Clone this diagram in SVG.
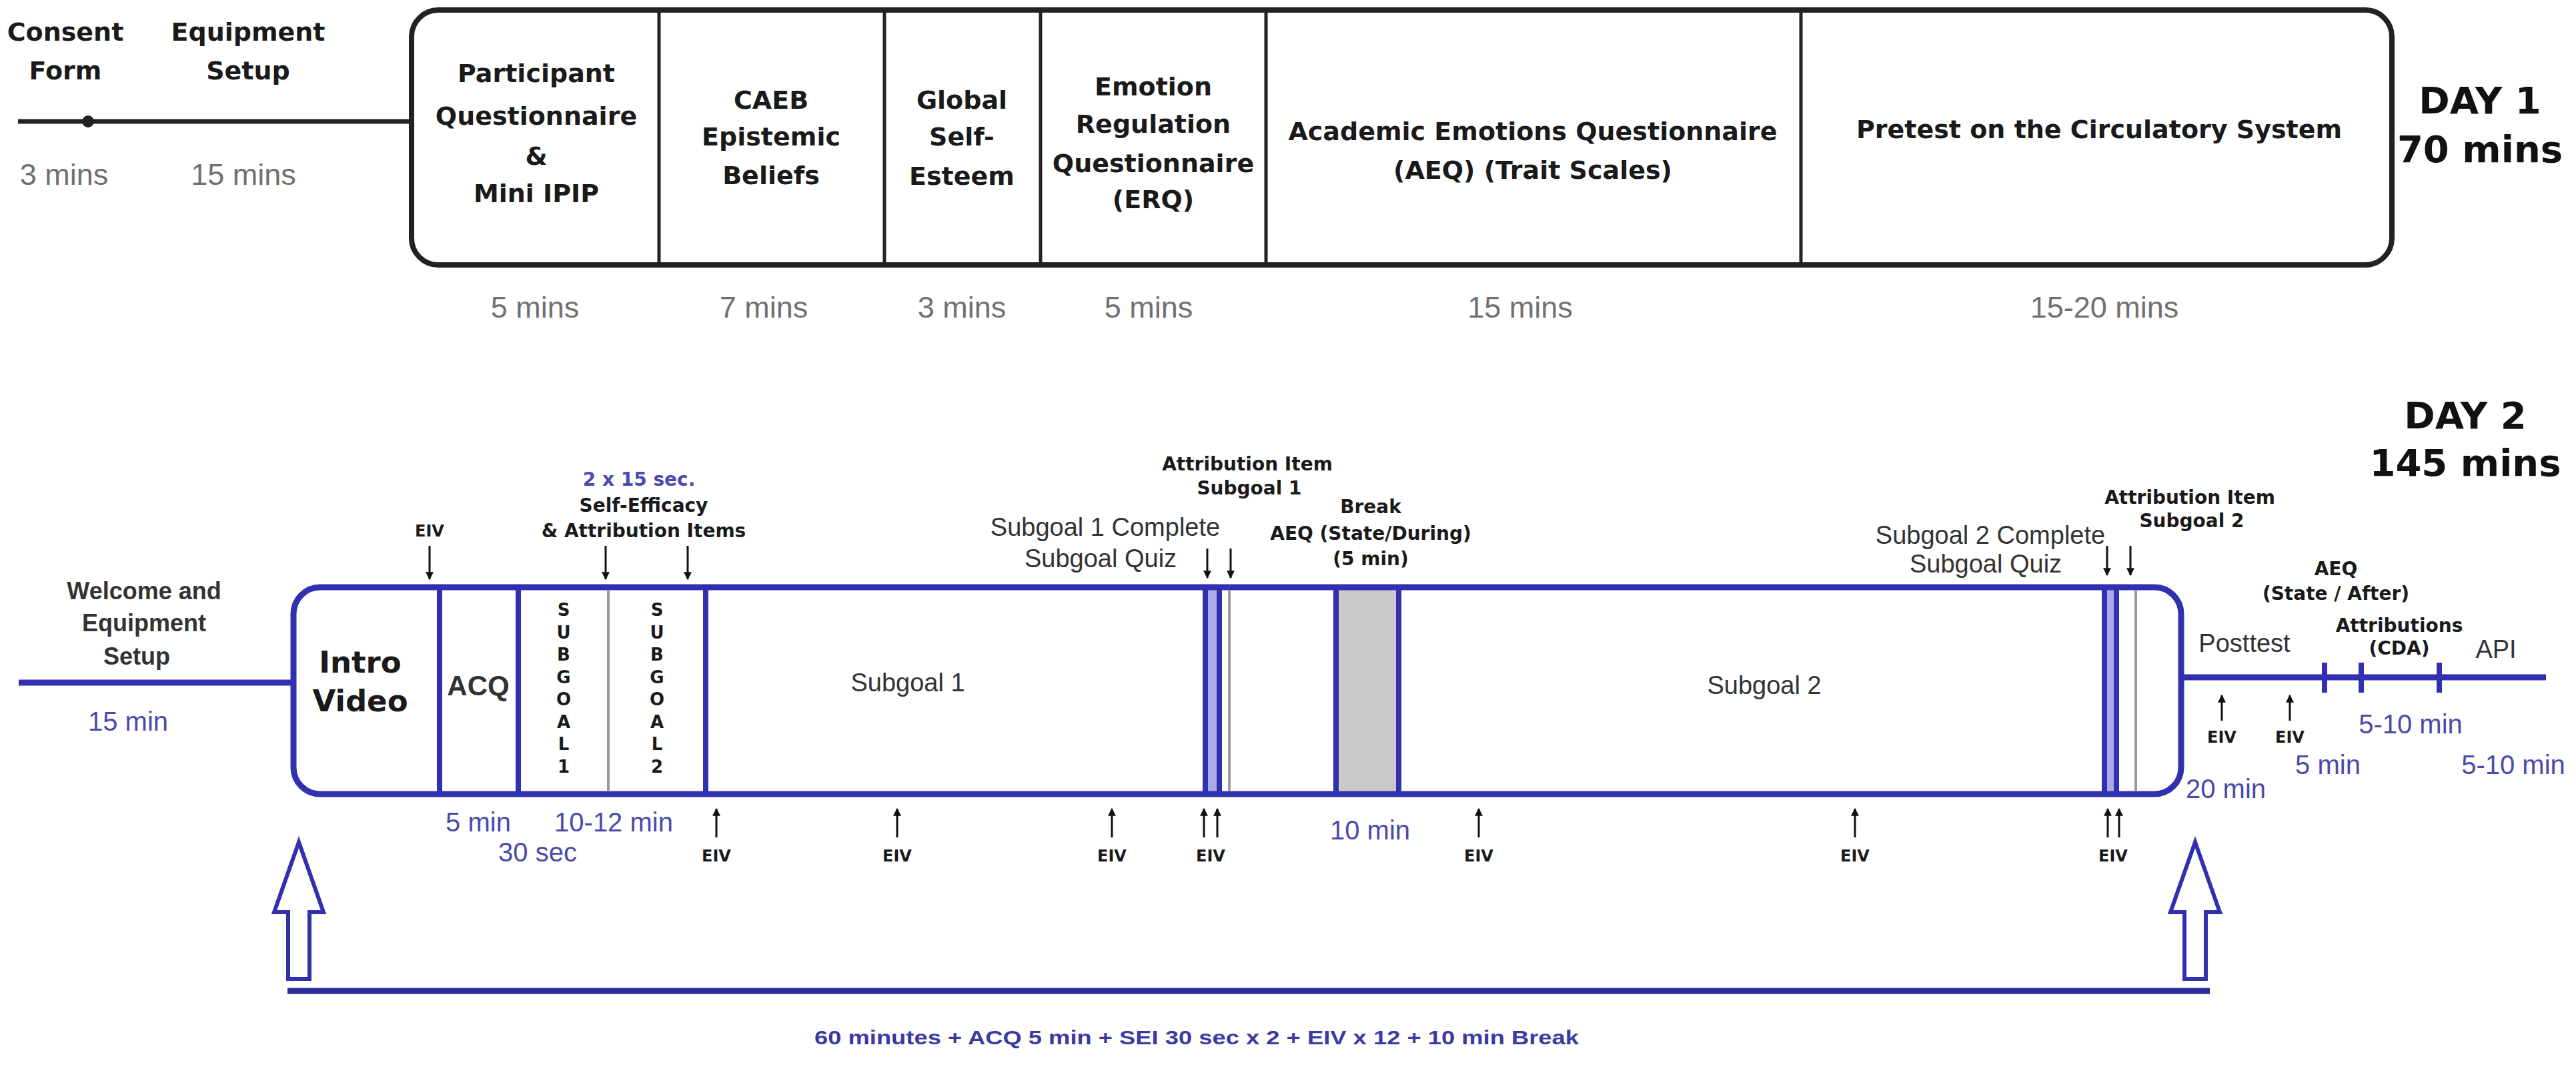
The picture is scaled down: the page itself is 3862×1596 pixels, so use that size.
<svg xmlns="http://www.w3.org/2000/svg" width="3862" height="1596" viewBox="0 0 3862 1596">
<style>
.bk{font-family:"DejaVu Sans",sans-serif;font-weight:bold;fill:#1a1a1a;text-anchor:middle}
.t1{font-size:38px}
.sm{font-size:28px}
.ev{font-size:24px}
.day{font-family:"DejaVu Sans",sans-serif;font-weight:bold;font-size:56px;fill:#111;text-anchor:middle}
.gl{font-family:"Liberation Sans",Arial,sans-serif;font-size:45px;fill:#707070;text-anchor:middle}
.reg{font-family:"Liberation Sans",Arial,sans-serif;font-size:38px;fill:#333;text-anchor:middle}
.rb{font-family:"Liberation Sans",Arial,sans-serif;font-weight:bold;fill:#333;text-anchor:middle}
.bl{font-family:"Liberation Sans",Arial,sans-serif;font-size:40px;fill:#4a4aa8;text-anchor:middle}
.blb{font-family:"DejaVu Sans",sans-serif;font-weight:bold;font-size:28px;fill:#4a4ab0;text-anchor:middle}
.kline{stroke:#222;fill:none}
.bline{stroke:#3030b0;fill:none}
.gline{stroke:#9a9a9a;stroke-width:4;fill:none}
.arr{stroke:#111;stroke-width:3;fill:none;marker-end:url(#ah)}
.big{stroke:#3030b0;stroke-width:6;fill:#fff;stroke-linejoin:miter}
</style>
<defs>
<marker id="ah" viewBox="0 0 10 10" refX="9" refY="5" markerWidth="4" markerHeight="4.5" orient="auto">
<path d="M0,0 L10,5 L0,10 Z" fill="#111"/>
</marker>
</defs>
<rect width="3862" height="1596" fill="#fff"/>

<!-- DAY 1 -->
<g id="day1-pre">
<line class="kline" x1="27" y1="182" x2="617" y2="182" stroke-width="7"/>
<circle cx="132" cy="182" r="9" fill="#222"/>
<text class="bk t1" x="98" y="61">Consent</text>
<text class="bk t1" x="98" y="119">Form</text>
<text class="bk t1" x="372" y="61">Equipment</text>
<text class="bk t1" x="372" y="119">Setup</text>
<text class="gl" x="96" y="277">3 mins</text>
<text class="gl" x="365" y="277">15 mins</text>
</g>

<g id="day1-sessions">
<rect x="617" y="15" width="2969" height="382" rx="40" ry="40" fill="#fff" stroke="#222" stroke-width="8"/>
<g class="kline" stroke-width="5">
<line x1="988" y1="15" x2="988" y2="397"/>
<line x1="1326" y1="15" x2="1326" y2="397"/>
<line x1="1560" y1="15" x2="1560" y2="397"/>
<line x1="1898" y1="15" x2="1898" y2="397"/>
<line x1="2700" y1="15" x2="2700" y2="397"/>
</g>
</g>
<g id="day1-participant">
<text class="bk t1" x="804" y="123">Participant</text>
<text class="bk t1" x="804" y="187">Questionnaire</text>
<text class="bk t1" x="804" y="247">&amp;</text>
<text class="bk t1" x="804" y="303">Mini IPIP</text>
<text class="gl" x="802" y="476">5 mins</text>
</g>
<g id="day1-caeb">
<text class="bk t1" x="1156" y="163">CAEB</text>
<text class="bk t1" x="1156" y="218">Epistemic</text>
<text class="bk t1" x="1156" y="276">Beliefs</text>
<text class="gl" x="1145" y="476">7 mins</text>
</g>
<g id="day1-selfesteem">
<text class="bk t1" x="1442" y="163">Global</text>
<text class="bk t1" x="1442" y="218">Self-</text>
<text class="bk t1" x="1442" y="277">Esteem</text>
<text class="gl" x="1442" y="476">3 mins</text>
</g>
<g id="day1-erq">
<text class="bk t1" x="1729" y="143">Emotion</text>
<text class="bk t1" x="1729" y="199">Regulation</text>
<text class="bk t1" x="1729" y="258">Questionnaire</text>
<text class="bk t1" x="1729" y="312">(ERQ)</text>
<text class="gl" x="1722" y="476">5 mins</text>
</g>
<g id="day1-aeq">
<text class="bk t1" x="2298" y="210">Academic Emotions Questionnaire</text>
<text class="bk t1" x="2298" y="268">(AEQ) (Trait Scales)</text>
<text class="gl" x="2279" y="476">15 mins</text>
</g>
<g id="day1-pretest">
<text class="bk t1" x="3147" y="207">Pretest on the Circulatory System</text>
<text class="gl" x="3155" y="476">15-20 mins</text>
</g>
<g id="day1-label">
<text class="day" x="3718" y="170">DAY 1</text>
<text class="day" x="3718" y="243">70 mins</text>
</g>

<!-- DAY 2 -->
<g id="day2-label">
<text class="day" x="3696" y="642">DAY 2</text>
<text class="day" x="3696" y="713">145 mins</text>
</g>

<g id="day2-welcome">
<text class="rb" font-size="36" x="216" y="898">Welcome and</text>
<text class="rb" font-size="36" x="216" y="946">Equipment</text>
<text class="rb" font-size="36" x="205" y="996">Setup</text>
<text class="bl" x="192" y="1095">15 min</text>
</g>

<g id="day2-session">
<rect x="1807" y="884" width="21" height="302" fill="#aaaae6"/>
<rect x="3155" y="884" width="18" height="302" fill="#aaaae6"/>
<rect x="2003" y="884" width="94" height="302" fill="#c9c9c9"/>
<rect class="bline" x="440" y="880" width="2830" height="310" rx="40" ry="40" stroke-width="9"/>
<g class="bline" stroke-width="8">
<line x1="659" y1="880" x2="659" y2="1190"/>
<line x1="777" y1="880" x2="777" y2="1190"/>
<line x1="1058" y1="880" x2="1058" y2="1190"/>
<line x1="1807" y1="880" x2="1807" y2="1190"/>
<line x1="1828" y1="880" x2="1828" y2="1190"/>
<line x1="2003" y1="880" x2="2003" y2="1190"/>
<line x1="2097" y1="880" x2="2097" y2="1190"/>
<line x1="3155" y1="880" x2="3155" y2="1190"/>
<line x1="3173" y1="880" x2="3173" y2="1190"/>
</g>
<line class="gline" x1="912" y1="884" x2="912" y2="1186"/>
<line class="gline" x1="1843" y1="884" x2="1843" y2="1186"/>
<line class="gline" x1="3202" y1="884" x2="3202" y2="1186"/>
</g>

<g id="day2-intro">
<text class="bk" font-size="45" x="540" y="1008">Intro</text>
<text class="bk" font-size="45" x="540" y="1066">Video</text>
</g>
<g id="day2-acq">
<text class="rb" font-size="42" x="717" y="1042" fill="#111">ACQ</text>
<text class="bl" x="717" y="1246">5 min</text>
<text class="bl" x="806" y="1291">30 sec</text>
</g>
<g id="day2-subgoal-items" class="bk" font-size="26">
<text x="845" y="923">S</text><text x="845" y="957">U</text><text x="845" y="990">B</text><text x="845" y="1024">G</text><text x="845" y="1057">O</text><text x="845" y="1091">A</text><text x="845" y="1124">L</text><text x="845" y="1158">1</text>
<text x="985" y="923">S</text><text x="985" y="957">U</text><text x="985" y="990">B</text><text x="985" y="1024">G</text><text x="985" y="1057">O</text><text x="985" y="1091">A</text><text x="985" y="1124">L</text><text x="985" y="1158">2</text>
</g>
<g id="day2-selfefficacy">
<text class="blb" x="958" y="728">2 x 15 sec.</text>
<text class="bk sm" x="965" y="767">Self-Efficacy</text>
<text class="bk sm" x="965" y="805">&amp; Attribution Items</text>
<text class="bl" x="920" y="1246">10-12 min</text>
</g>
<g id="day2-subgoal1">
<text class="reg" font-size="40" x="1361" y="1036">Subgoal 1</text>
<text class="reg" x="1657" y="803">Subgoal 1 Complete</text>
<text class="reg" x="1650" y="850">Subgoal Quiz</text>
<text class="bk sm" x="1870" y="705">Attribution Item</text>
<text class="bk sm" x="1873" y="741">Subgoal 1</text>
</g>
<g id="day2-break">
<text class="bk sm" x="2055" y="769">Break</text>
<text class="bk sm" x="2055" y="809">AEQ (State/During)</text>
<text class="bk sm" x="2055" y="847">(5 min)</text>
<text class="bl" x="2054" y="1258">10 min</text>
</g>
<g id="day2-subgoal2">
<text class="reg" font-size="40" x="2645" y="1040">Subgoal 2</text>
<text class="reg" x="2984" y="815">Subgoal 2 Complete</text>
<text class="reg" x="2977" y="858">Subgoal Quiz</text>
<text class="bk sm" x="3283" y="755">Attribution Item</text>
<text class="bk sm" x="3286" y="790">Subgoal 2</text>
</g>
<g id="day2-posttest">
<text class="reg" font-size="40" x="3365" y="977">Posttest</text>
<text class="bl" x="3337" y="1196">20 min</text>
</g>
<g id="day2-aeq-after">
<text class="bk sm" x="3502" y="862">AEQ</text>
<text class="bk sm" x="3502" y="899">(State / After)</text>
<text class="bl" x="3490" y="1160">5 min</text>
</g>
<g id="day2-attributions">
<text class="bk sm" x="3597" y="947">Attributions</text>
<text class="bk sm" x="3597" y="981">(CDA)</text>
<text class="bl" x="3614" y="1099">5-10 min</text>
</g>
<g id="day2-api">
<text class="reg" font-size="42" x="3742" y="986">API</text>
<text class="bl" x="3768" y="1160">5-10 min</text>
</g>

<g id="eiv-labels" class="bk ev">
<text x="644" y="804">EIV</text>
<text x="1074" y="1291">EIV</text>
<text x="1345" y="1291">EIV</text>
<text x="1667" y="1291">EIV</text>
<text x="1815" y="1291">EIV</text>
<text x="2217" y="1291">EIV</text>
<text x="2781" y="1291">EIV</text>
<text x="3168" y="1291">EIV</text>
<text x="3331" y="1113">EIV</text>
<text x="3433" y="1113">EIV</text>
</g>

<g id="day2-total">
<text font-family="Liberation Sans, Arial, sans-serif" font-weight="bold" font-size="30" fill="#3a3aa0" text-anchor="middle" x="1794" y="1565" textLength="1146" lengthAdjust="spacingAndGlyphs">60 minutes + ACQ 5 min + SEI 30 sec x 2 + EIV x 12 + 10 min Break</text>
</g>

<g id="connectors">
<line class="bline" x1="28" y1="1023" x2="440" y2="1023" stroke-width="9"/>
<line class="bline" x1="3270" y1="1015" x2="3817" y2="1015" stroke-width="9"/>
<g class="bline" stroke-width="8">
<line x1="3485" y1="993" x2="3485" y2="1038"/>
<line x1="3540" y1="993" x2="3540" y2="1038"/>
<line x1="3657" y1="993" x2="3657" y2="1038"/>
</g>
<line x1="431" y1="1485" x2="3313" y2="1485" stroke="#2a2a9a" stroke-width="9"/>
<path class="big" d="M448,1262 L485,1367 L464,1367 L464,1467 L432,1467 L432,1367 L411,1367 Z"/>
<path class="big" d="M3291,1262 L3328,1367 L3307,1367 L3307,1467 L3275,1467 L3275,1367 L3254,1367 Z"/>
<line class="arr" x1="644" y1="818" x2="644" y2="868"/>
<line class="arr" x1="908" y1="818" x2="908" y2="868"/>
<line class="arr" x1="1031" y1="818" x2="1031" y2="868"/>
<line class="arr" x1="1810" y1="822" x2="1810" y2="866"/>
<line class="arr" x1="1845" y1="822" x2="1845" y2="866"/>
<line class="arr" x1="3159" y1="818" x2="3159" y2="862"/>
<line class="arr" x1="3194" y1="818" x2="3194" y2="862"/>
<line class="arr" x1="1074" y1="1255" x2="1074" y2="1212"/>
<line class="arr" x1="1345" y1="1255" x2="1345" y2="1212"/>
<line class="arr" x1="1667" y1="1255" x2="1667" y2="1212"/>
<line class="arr" x1="1805" y1="1255" x2="1805" y2="1212"/>
<line class="arr" x1="1825" y1="1255" x2="1825" y2="1212"/>
<line class="arr" x1="2217" y1="1255" x2="2217" y2="1212"/>
<line class="arr" x1="2781" y1="1255" x2="2781" y2="1212"/>
<line class="arr" x1="3160" y1="1255" x2="3160" y2="1212"/>
<line class="arr" x1="3177" y1="1255" x2="3177" y2="1212"/>
<line class="arr" x1="3331" y1="1080" x2="3331" y2="1042"/>
<line class="arr" x1="3433" y1="1080" x2="3433" y2="1042"/>
</g>
</svg>
